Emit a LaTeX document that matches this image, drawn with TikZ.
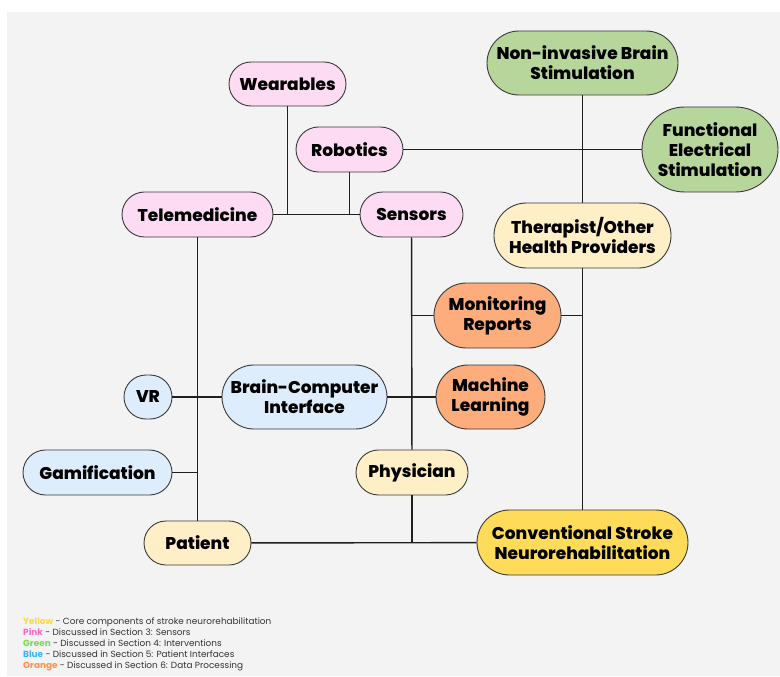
\documentclass[tikz,border=0pt]{standalone}
\usepackage{fontspec}
\setmainfont{Poppins}
\newfontfamily\heavyfont{Poppins ExtraBold}
\usepackage{xcolor}
\usepackage{tikz}
\usetikzlibrary{positioning,calc}
\definecolor{bggray}{HTML}{F3F3F3}
\definecolor{edgegray}{HTML}{3A3A3A}
\definecolor{pinkfill}{HTML}{FDDCF3}
\definecolor{greenfill}{HTML}{B7D69B}
\definecolor{creamfill}{HTML}{FFEFC6}
\definecolor{orangefill}{HTML}{FDAC7C}
\definecolor{bluefill}{HTML}{DDEDFB}
\definecolor{yellowfill}{HTML}{FEDC59}
\definecolor{lyellow}{HTML}{FFD93D}
\definecolor{lpink}{HTML}{FF66C4}
\definecolor{lgreen}{HTML}{7ED957}
\definecolor{lblue}{HTML}{38B6FF}
\definecolor{lorange}{HTML}{FF914D}
\definecolor{legendgray}{HTML}{333333}

\begin{document}
\begin{tikzpicture}[
  x=1pt, y=-1pt,
  box/.style={rectangle, draw=edgegray, line width=0.9pt, align=center, inner sep=0pt,
    font=\heavyfont\fontsize{17}{20}\selectfont},
  sz/.style 2 args={minimum width=#1pt, minimum height=#2pt, rounded corners=#2pt/2},
  pink/.style={box, fill=pinkfill},
  green/.style={box, fill=greenfill},
  cream/.style={box, fill=creamfill},
  orange/.style={box, fill=orangefill},
  blue/.style={box, fill=bluefill},
  yellow/.style={box, fill=yellowfill},
  link/.style={line width=1.4pt, black!88},
  note/.style={font=\fontsize{8.9}{11}\selectfont, text=legendgray, align=left, inner sep=0pt}
]
  \useasboundingbox (0,0) rectangle (780,677);
  \fill[bggray] (7,12) rectangle (780,676);

  % sensors
  \node[pink, sz={117}{44}] (wearables) at (287.5,84) {Wearables};
  \node[pink, sz={107}{45}] (robotics) at (349.5,149.5) {Robotics};
  \node[pink, sz={151}{45}] (telemed) at (197.5,214.5) {Telemedicine};
  \node[pink, sz={103}{45}] (sensors) at (411.5,214.5) {Sensors};

  % interventions
  \node[green, sz={191}{64}] (nibs) at (582.5,63) {Non-invasive Brain\\Stimulation};
  \node[green, sz={136}{85}] (fes) at (710,149.5) {Functional\\Electrical\\Stimulation};

  % core
  \node[cream, sz={177}{65}] (therapist) at (582.5,235.5) {Therapist/Other\\Health Providers};
  \node[cream, sz={112}{45}] (physician) at (412,472.5) {Physician};
  \node[cream, sz={107}{44}] (patient) at (197.5,543) {Patient};
  \node[yellow, sz={211}{65}] (conv) at (582.5,542.5) {Conventional Stroke\\Neurorehabilitation};

  % data processing
  \node[orange, sz={127}{65}] (monitor) at (497.5,315.5) {Monitoring\\Reports};
  \node[orange, sz={109}{64}] (ml) at (490.5,397) {Machine\\Learning};

  % patient interfaces
  \node[blue, sz={165}{64}] (bci) at (304.5,397) {Brain-Computer\\Interface};
  \node[blue, sz={48}{44}] (vr) at (148,397) {VR};
  \node[blue, sz={149}{45}] (gamif) at (97.5,472.5) {Gamification};

  % junctions
  \coordinate (jwear) at (wearables.south |- telemed.east);
  \coordinate (jrobo) at (robotics.south |- telemed.east);
  \coordinate (jmonl) at (sensors.south |- monitor.west);
  \coordinate (jmonr) at (therapist.south |- monitor.east);
  \coordinate (jgame) at (telemed.south |- gamif.east);
  \coordinate (jphys) at (physician.south |- patient.east);

  \draw[link] (telemed) -- (sensors);
  \draw[link] (wearables) -- (jwear);
  \draw[link] (robotics) -- (jrobo);
  \draw[link] (robotics) -- (fes);
  \draw[link] (nibs) -- (therapist);
  \draw[link] (therapist) -- (conv);
  \draw[link] (sensors) -- (physician);
  \draw[link] (monitor) -- (jmonl);
  \draw[link] (monitor) -- (jmonr);
  \draw[link] (vr) -- (bci);
  \draw[link] (bci) -- (ml);
  \draw[link] (telemed) -- (patient);
  \draw[link] (gamif) -- (jgame);
  \draw[link] (patient) -- (conv);
  \draw[link] (physician) -- (jphys);

  \node[note, anchor=north west] (legend) at (23,617)
    {\textcolor{lyellow}{\bfseries Yellow} - Core components of stroke neurorehabilitation\\
     \textcolor{lpink}{\bfseries Pink} - Discussed in Section 3: Sensors\\
     \textcolor{lgreen}{\bfseries Green} - Discussed in Section 4: Interventions\\
     \textcolor{lblue}{\bfseries Blue} - Discussed in Section 5: Patient Interfaces\\
     \textcolor{lorange}{\bfseries Orange} - Discussed in Section 6: Data Processing};
\end{tikzpicture}
\end{document}
